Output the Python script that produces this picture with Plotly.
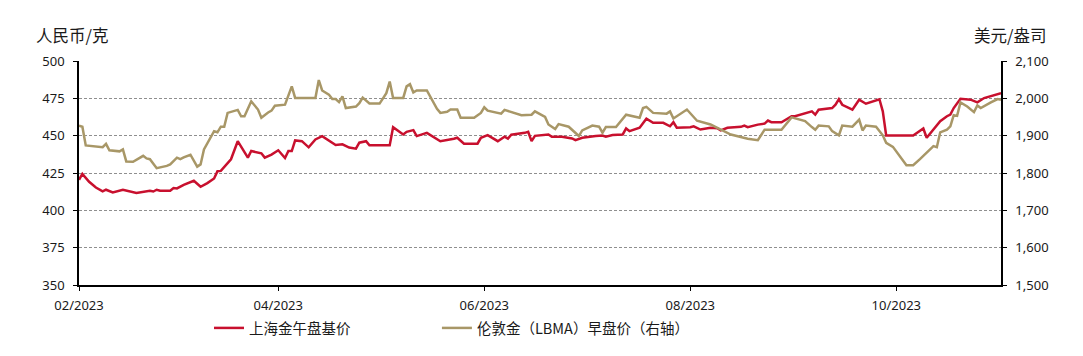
import plotly.graph_objects as go

# --- Data ---
sge_dates = [
    "2023-02-01", "2023-02-02", "2023-02-04", "2023-02-06", "2023-02-08", "2023-02-09",
    "2023-02-11", "2023-02-14", "2023-02-18", "2023-02-22", "2023-02-23", "2023-02-24",
    "2023-02-25", "2023-02-28", "2023-03-01", "2023-03-02", "2023-03-04", "2023-03-07",
    "2023-03-09", "2023-03-11", "2023-03-13", "2023-03-14", "2023-03-15", "2023-03-17",
    "2023-03-18", "2023-03-20", "2023-03-23", "2023-03-24", "2023-03-27", "2023-03-28",
    "2023-03-30", "2023-04-01", "2023-04-03", "2023-04-04", "2023-04-05", "2023-04-06",
    "2023-04-08", "2023-04-10", "2023-04-12", "2023-04-14", "2023-04-18", "2023-04-20",
    "2023-04-22", "2023-04-24", "2023-04-25", "2023-04-27", "2023-04-28", "2023-05-04",
    "2023-05-05", "2023-05-08", "2023-05-09", "2023-05-11", "2023-05-12", "2023-05-15",
    "2023-05-19", "2023-05-23", "2023-05-24", "2023-05-26", "2023-05-30", "2023-05-31",
    "2023-06-02", "2023-06-05", "2023-06-07", "2023-06-08", "2023-06-09", "2023-06-13",
    "2023-06-14", "2023-06-15", "2023-06-16", "2023-06-20", "2023-06-21", "2023-06-24",
    "2023-06-27", "2023-06-28", "2023-06-30", "2023-07-04", "2023-07-06", "2023-07-07",
    "2023-07-09", "2023-07-12", "2023-07-13", "2023-07-14", "2023-07-17", "2023-07-19",
    "2023-07-21", "2023-07-24", "2023-07-26", "2023-07-27", "2023-07-28", "2023-08-01",
    "2023-08-02", "2023-08-04", "2023-08-07", "2023-08-09", "2023-08-10", "2023-08-12",
    "2023-08-16", "2023-08-17", "2023-08-18", "2023-08-21", "2023-08-23", "2023-08-24",
    "2023-08-25", "2023-08-28", "2023-08-31", "2023-09-01", "2023-09-06", "2023-09-07",
    "2023-09-08", "2023-09-12", "2023-09-13", "2023-09-14", "2023-09-15", "2023-09-18",
    "2023-09-20", "2023-09-22", "2023-09-26", "2023-09-27", "2023-09-28", "2023-10-06",
    "2023-10-09", "2023-10-10", "2023-10-14", "2023-10-16", "2023-10-17", "2023-10-18",
    "2023-10-20", "2023-10-23", "2023-10-25", "2023-10-27", "2023-10-30", "2023-11-01",
]
sge_values = [
    420.4, 424.4, 419.1, 415.3, 412.7, 413.8,
    412.0, 413.8, 411.6, 413.1, 412.6, 413.8,
    413.1, 413.1, 414.9, 414.7, 417.1, 419.8,
    415.8, 418.2, 421.3, 426.2, 426.4, 431.3,
    434.2, 446.3, 435.3, 439.7, 438.2, 435.3,
    437.3, 440.2, 435.0, 439.7, 439.7, 446.8,
    446.3, 442.2, 447.5, 449.7, 443.7, 444.2,
    442.0, 441.3, 445.3, 446.3, 443.5, 443.5,
    455.7, 450.8, 452.6, 453.7, 449.7, 451.9,
    446.3, 447.9, 448.6, 444.6, 444.6, 448.6,
    450.4, 446.3, 449.3, 448.0, 450.6, 451.9,
    452.6, 446.3, 449.9, 450.8, 449.3, 449.2,
    448.1, 447.0, 448.6, 449.7, 450.1, 449.3,
    450.4, 450.8, 454.8, 453.0, 455.3, 461.4,
    458.6, 458.6, 456.3, 459.0, 455.3, 455.7,
    456.3, 454.1, 455.3, 455.0, 453.5, 455.3,
    455.9, 456.8, 455.7, 457.4, 458.1, 460.1,
    459.0, 459.0, 463.0, 463.0, 466.3, 464.1,
    467.4, 468.5, 470.7, 474.5, 470.7, 467.4,
    474.1, 471.4, 474.4, 466.3, 450.1, 450.1,
    454.8, 448.6, 459.7, 463.0, 464.1, 468.5,
    474.7, 474.1, 472.3, 475.2, 477.4, 478.5,
]

lbma_dates = [
    "2023-02-01", "2023-02-02", "2023-02-03", "2023-02-07", "2023-02-08", "2023-02-09",
    "2023-02-10", "2023-02-13", "2023-02-14", "2023-02-15", "2023-02-17", "2023-02-20",
    "2023-02-21", "2023-02-22", "2023-02-24", "2023-02-27", "2023-02-28", "2023-03-02",
    "2023-03-03", "2023-03-04", "2023-03-06", "2023-03-08", "2023-03-09", "2023-03-10",
    "2023-03-13", "2023-03-14", "2023-03-15", "2023-03-16", "2023-03-17", "2023-03-20",
    "2023-03-21", "2023-03-22", "2023-03-24", "2023-03-26", "2023-03-27", "2023-03-29",
    "2023-03-30", "2023-03-31", "2023-04-03", "2023-04-05", "2023-04-06", "2023-04-12",
    "2023-04-13", "2023-04-14", "2023-04-16", "2023-04-17", "2023-04-18", "2023-04-19",
    "2023-04-20", "2023-04-21", "2023-04-24", "2023-04-25", "2023-04-26", "2023-04-28",
    "2023-05-01", "2023-05-03", "2023-05-04", "2023-05-05", "2023-05-08", "2023-05-09",
    "2023-05-10", "2023-05-11", "2023-05-12", "2023-05-15", "2023-05-16", "2023-05-18",
    "2023-05-19", "2023-05-21", "2023-05-22", "2023-05-24", "2023-05-25", "2023-05-29",
    "2023-05-31", "2023-06-01", "2023-06-02", "2023-06-04", "2023-06-06", "2023-06-07",
    "2023-06-10", "2023-06-12", "2023-06-15", "2023-06-16", "2023-06-19", "2023-06-20",
    "2023-06-22", "2023-06-23", "2023-06-26", "2023-06-27", "2023-06-29", "2023-06-30",
    "2023-07-03", "2023-07-05", "2023-07-06", "2023-07-07", "2023-07-10", "2023-07-13",
    "2023-07-17", "2023-07-18", "2023-07-19", "2023-07-21", "2023-07-25", "2023-07-26",
    "2023-07-27", "2023-07-31", "2023-08-02", "2023-08-03", "2023-08-07", "2023-08-10",
    "2023-08-13", "2023-08-18", "2023-08-21", "2023-08-23", "2023-08-28", "2023-08-31",
    "2023-09-04", "2023-09-06", "2023-09-07", "2023-09-08", "2023-09-11", "2023-09-12",
    "2023-09-14", "2023-09-15", "2023-09-18", "2023-09-20", "2023-09-21", "2023-09-22",
    "2023-09-25", "2023-09-27", "2023-09-28", "2023-09-30", "2023-10-04", "2023-10-06",
    "2023-10-08", "2023-10-12", "2023-10-13", "2023-10-14", "2023-10-16", "2023-10-17",
    "2023-10-18", "2023-10-19", "2023-10-20", "2023-10-22", "2023-10-24", "2023-10-25",
    "2023-10-26", "2023-10-29", "2023-10-31", "2023-11-01",
]
lbma_values = [
    1927, 1924, 1874, 1871, 1869, 1878,
    1861, 1858, 1863, 1831, 1830, 1846,
    1839, 1837, 1813, 1819, 1823, 1841,
    1837, 1842, 1849, 1817, 1823, 1863,
    1912, 1909, 1924, 1924, 1961, 1969,
    1952, 1952, 1992, 1970, 1948, 1962,
    1967, 1980, 1983, 2032, 2001, 2001,
    2049, 2021, 2010, 1998, 1998, 1990,
    2005, 1974, 1978, 1987, 2002, 1986,
    1986, 2014, 2045, 2001, 2001, 2032,
    2038, 2016, 2021, 2021, 2005, 1972,
    1961, 1964, 1970, 1970, 1948, 1948,
    1961, 1976, 1967, 1964, 1959, 1969,
    1961, 1955, 1956, 1965, 1950, 1930,
    1918, 1931, 1924, 1916, 1899, 1914,
    1927, 1924, 1908, 1923, 1923, 1956,
    1948, 1974, 1977, 1961, 1959, 1965,
    1946, 1970, 1948, 1940, 1930, 1916,
    1903, 1892, 1888, 1916, 1916, 1949,
    1939, 1923, 1916, 1927, 1925, 1912,
    1901, 1927, 1924, 1943, 1914, 1927,
    1924, 1901, 1881, 1870, 1821, 1821,
    1837, 1872, 1869, 1909, 1916, 1925,
    1955, 1953, 1989, 1978, 1963, 1981,
    1974, 1989, 1998, 1996,
]

sge_name = "上海金午盘基价"
lbma_name = "伦敦金（LBMA）早盘价（右轴）"
left_title = "人民币/克"
right_title = "美元/盎司"
x_tick_vals = ["2023-02-01", "2023-04-01", "2023-06-01", "2023-08-01", "2023-10-01"]
x_tick_text = ["02/2023", "04/2023", "06/2023", "08/2023", "10/2023"]

RED = "#C8102E"
TAN = "#A89767"
TXT = "#1a1a1a"
FONT = "Noto Sans CJK SC, Noto Sans, sans-serif"
NUMFONT = "Noto Sans, sans-serif"

fig = go.Figure()
fig.add_trace(go.Scatter(x=sge_dates, y=sge_values, name=sge_name, mode="lines",
                         line=dict(color=RED, width=2.5), yaxis="y", legend="legend"))
fig.add_trace(go.Scatter(x=lbma_dates, y=lbma_values, name=lbma_name, mode="lines",
                         line=dict(color=TAN, width=2.5), yaxis="y2", legend="legend2"))

axis_common = dict(showline=True, linecolor="#000", linewidth=1.5,
                   ticks="outside", ticklen=4, tickcolor="#000",
                   tickfont=dict(family=NUMFONT, size=13, color=TXT),
                   zeroline=False, automargin=False)

legend_common = dict(orientation="h", xref="container", yref="container",
                     xanchor="left", y=0.0805, yanchor="middle",
                     font=dict(family=FONT, size=14.5, color=TXT),
                     bgcolor="rgba(0,0,0,0)")

# the page body adds an 8px offset, so the figure is 8px smaller than the window
fig.update_layout(
    width=1075, height=348,
    margin=dict(l=71, r=82, t=53, b=71),
    paper_bgcolor="white", plot_bgcolor="white",
    font=dict(family=FONT, size=13, color=TXT),
    showlegend=True,
    legend=dict(x=0.187, **legend_common),
    legend2=dict(x=0.399, **legend_common),
    xaxis=dict(type="date", range=["2023-02-01", "2023-11-01"],
               tickvals=x_tick_vals, ticktext=x_tick_text,
               showgrid=False, ticklabelstandoff=4, **axis_common),
    yaxis=dict(range=[350, 500], dtick=25, tick0=350,
               showgrid=True, gridcolor="#8f8f8f", griddash="3px,2px", gridwidth=1,
               ticklabelstandoff=6, **axis_common),
    yaxis2=dict(range=[1500, 2100], dtick=100, tick0=1500, tickformat=",",
                overlaying="y", side="right", showgrid=False,
                ticklabelstandoff=6, **axis_common),
    annotations=[
        dict(text=left_title, xref="paper", yref="paper", x=-0.049, y=1.0,
             xanchor="left", yanchor="bottom", yshift=12, showarrow=False,
             font=dict(family=FONT, size=16.5, color=TXT)),
        dict(text=right_title, xref="paper", yref="paper", x=1.051, y=1.0,
             xanchor="right", yanchor="bottom", yshift=12, showarrow=False,
             font=dict(family=FONT, size=16.5, color=TXT)),
    ],
)

fig.write_html("out.html")
